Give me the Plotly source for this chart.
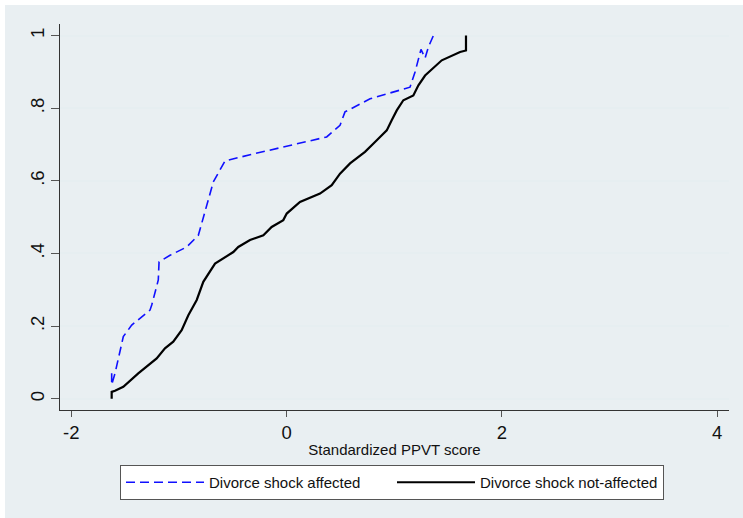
import plotly.graph_objects as go

# ---- data ----
affected_x = [-1.624, -1.624, -1.593, -1.516, -1.438, -1.268, -1.252, -1.191, -1.184,
              -1.082, -0.927, -0.819, -0.680, -0.571, -0.339, 0.373, 0.497, 0.543,
              0.776, 1.147, 1.194, 1.249, 1.287, 1.317, 1.364]
affected_y = [0.070, 0.038, 0.070, 0.171, 0.203, 0.244, 0.258, 0.327, 0.377,
              0.395, 0.418, 0.450, 0.597, 0.655, 0.672, 0.721, 0.753, 0.790,
              0.826, 0.858, 0.900, 0.962, 0.938, 0.968, 1.000]

notaffected_x = [-1.624, -1.624, -1.593, -1.516, -1.377, -1.284, -1.206, -1.129, -1.052,
                 -0.974, -0.912, -0.834, -0.773, -0.664, -0.494, -0.448, -0.339, -0.215,
                 -0.138, -0.030, 0.002, 0.125, 0.311, 0.420, 0.497, 0.590, 0.729,
                 0.822, 0.931, 0.977, 1.024, 1.085, 1.178, 1.225, 1.287, 1.442,
                 1.612, 1.667, 1.667]
notaffected_y = [0.000, 0.019, 0.022, 0.033, 0.070, 0.093, 0.111, 0.139, 0.157,
                 0.189, 0.230, 0.272, 0.322, 0.372, 0.404, 0.418, 0.437, 0.450,
                 0.473, 0.492, 0.510, 0.542, 0.565, 0.588, 0.620, 0.648, 0.680,
                 0.707, 0.739, 0.767, 0.794, 0.822, 0.835, 0.863, 0.890, 0.932,
                 0.955, 0.959, 1.000]

series_names = ["Divorce shock affected", "Divorce shock not-affected"]
x_tick_vals = [-2, 0, 2, 4]
x_tick_text = ["-2", "0", "2", "4"]
y_tick_vals = [0, 0.2, 0.4, 0.6, 0.8, 1.0]
y_tick_text = ["0", ".2", ".4", ".6", ".8", "1"]
x_title = "Standardized PPVT score"

FONT = "Liberation Sans, Arial, sans-serif"
OUTER = "#e9eff2"
GRID = "#e6eef1"
TEXT = "#111111"

fig = go.Figure()
fig.add_trace(go.Scatter(
    x=affected_x, y=affected_y, mode="lines", name=series_names[0],
    line=dict(color="#1010ff", width=1.6, dash="9px,5px"),
))
fig.add_trace(go.Scatter(
    x=notaffected_x, y=notaffected_y, mode="lines", name=series_names[1],
    line=dict(color="black", width=2.2),
))

W, H = 743, 518
L, R, T, B = 60, 14, 24, 108
pw, ph = W - L - R, H - T - B

def px2paper_x(px):
    return (px - L) / pw

def px2paper_y(py):
    return (H - B - py) / ph

fig.add_shape(type="rect", xref="paper", yref="paper", layer="below",
              x0=px2paper_x(5), x1=px2paper_x(743), y0=px2paper_y(518), y1=px2paper_y(5),
              fillcolor=OUTER, line=dict(width=0))

fig.update_layout(
    width=W, height=H,
    margin=dict(l=L, r=R, t=T, b=B, autoexpand=False),
    paper_bgcolor="white",
    plot_bgcolor="white",
    font=dict(family=FONT, color=TEXT),
    showlegend=True,
    legend=dict(
        orientation="h",
        x=px2paper_x(120), xanchor="left",
        y=px2paper_y(465), yanchor="top",
        bgcolor="white", bordercolor="#555555", borderwidth=1,
        font=dict(size=15, family=FONT, color=TEXT),
        itemwidth=78,
        entrywidth=178, entrywidthmode="pixels",
    ),
    xaxis=dict(
        range=[-2.104, 4.11], tickmode="array", tickvals=x_tick_vals, ticktext=x_tick_text,
        showgrid=False, zeroline=False, showline=True, linecolor="#333333", linewidth=1,
        ticks="outside", ticklen=6, tickcolor="#555555", tickwidth=1,
        tickfont=dict(size=18.5, family=FONT, color=TEXT),
        title=dict(text=x_title, font=dict(size=15, family=FONT, color=TEXT), standoff=2),
    ),
    yaxis=dict(
        range=[-0.031, 1.032], tickmode="array", tickvals=y_tick_vals, ticktext=y_tick_text,
        showgrid=True, gridcolor=GRID, gridwidth=2, zeroline=False,
        showline=True, linecolor="#333333", linewidth=1,
        ticks="outside", ticklen=8, tickcolor="#555555", tickwidth=1, tickangle=-90,
        tickfont=dict(size=18.5, family=FONT, color=TEXT),
    ),
)

fig.write_html("out.html")
